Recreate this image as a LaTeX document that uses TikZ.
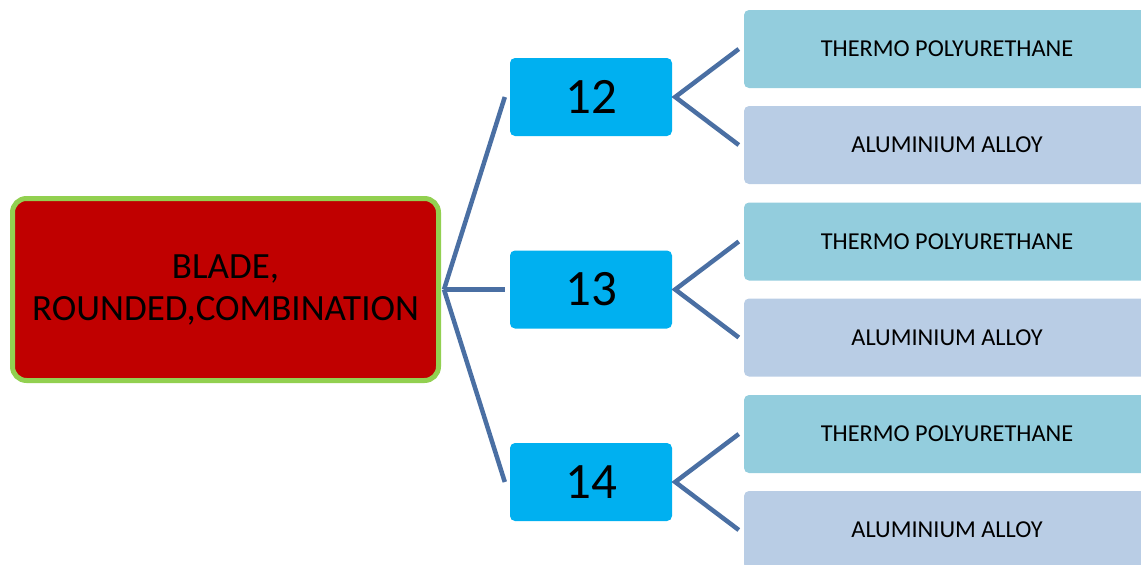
\documentclass[tikz,border=0pt]{standalone}
\usepackage{fontspec}
\setmainfont{Carlito}
\definecolor{rootred}{HTML}{C00000}
\definecolor{rootgreen}{HTML}{92D050}
\definecolor{midblue}{HTML}{00B0F0}
\definecolor{leafteal}{HTML}{93CDDD}
\definecolor{leafblue}{HTML}{B9CDE5}
\definecolor{linkblue}{HTML}{4A6FA3}
\tikzset{
  rootbox/.style={draw=rootgreen, line width=5pt, fill=rootred, rounded corners=14pt,
    minimum width=426pt, minimum height=182pt, inner sep=0pt, align=center,
    font=\fontsize{37}{42}\selectfont},
  midbox/.style={fill=midblue, rounded corners=5pt, minimum width=162pt, minimum height=78pt,
    inner sep=0pt, font=\fontsize{51}{52}\selectfont},
  leafa/.style={fill=leafteal, rounded corners=5pt, minimum width=406pt, minimum height=78pt,
    inner sep=0pt, font=\fontsize{24.3}{26}\selectfont},
  leafb/.style={leafa, fill=leafblue},
  link/.style={draw=linkblue, line width=4.5pt}
}
\begin{document}
\begin{tikzpicture}[x=1pt,y=-1pt]
\useasboundingbox (0,0) rectangle (1141,565);
\clip (0,0) rectangle (1141,565);
\node[rootbox] (root) at (225.5,289.5) {BLADE,\\ROUNDED,COMBINATION};
\node[midbox] (m12) at (591,97) {12};
\node[midbox] (m13) at (591,289.5) {13};
\node[midbox] (m14) at (591,482) {14};
\node[leafa] (t12) at (947,49) {THERMO POLYURETHANE};
\node[leafb] (a12) at (947,145) {ALUMINIUM ALLOY};
\node[leafa] (t13) at (947,241.5) {THERMO POLYURETHANE};
\node[leafb] (a13) at (947,337.5) {ALUMINIUM ALLOY};
\node[leafa] (t14) at (947,434) {THERMO POLYURETHANE};
\node[leafb] (a14) at (947,530) {ALUMINIUM ALLOY};
\coordinate (r) at ([xshift=3pt]root.east);
\foreach \m in {m12,m13,m14}{
  \draw[link] (r) -- ([xshift=-5pt]\m.west);
}
\foreach \m/\t/\a in {m12/t12/a12, m13/t13/a13, m14/t14/a14}{
  \coordinate (\m c) at ([xshift=3pt]\m.east);
  \draw[link] ([xshift=-5pt]\t.west) -- (\m c) -- ([xshift=-5pt]\a.west);
}
\end{tikzpicture}
\end{document}
